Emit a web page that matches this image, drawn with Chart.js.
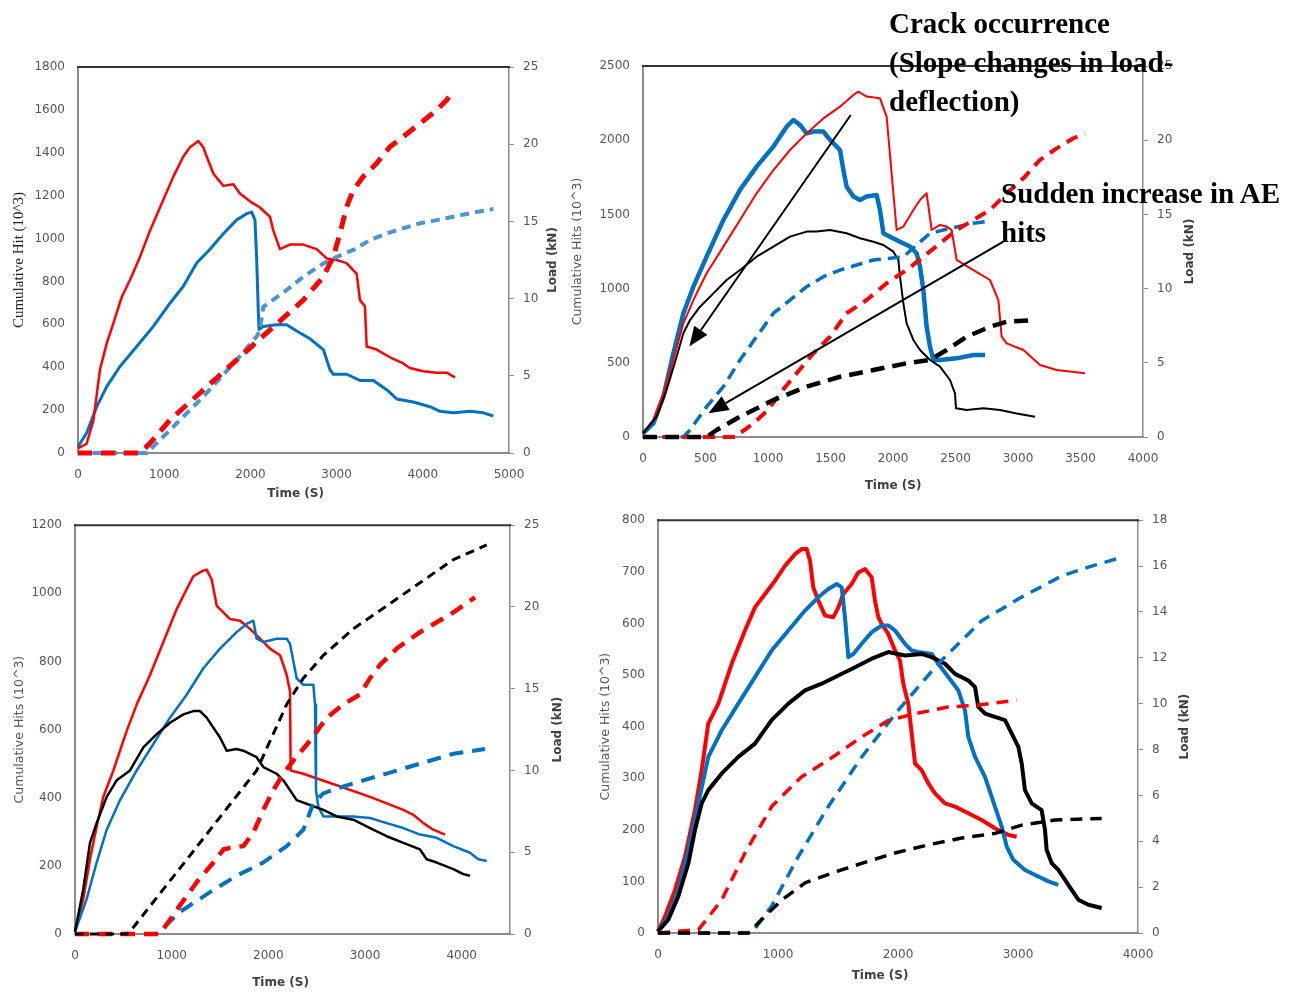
<!DOCTYPE html>
<html>
<head>
<meta charset="utf-8">
<title>AE cumulative hits and load vs time</title>
<script src="https://cdn.jsdelivr.net/npm/chart.js@4.4.1/dist/chart.umd.min.js"></script>
<style>
  html, body { margin: 0; padding: 0; background: #fff; }
  body { width: 1302px; height: 995px; position: relative; overflow: hidden; }
  canvas { position: absolute; }
  .note {
    position: absolute; z-index: 5; white-space: nowrap; color: #000;
    font-family: "Liberation Serif", "Times New Roman", serif;
    font-weight: bold; font-size: 29px; line-height: 39px;
  }
</style>
</head>
<body>
<canvas id="c1" width="570" height="510" style="left:0px;top:0px;width:570px;height:510px"></canvas>
<canvas id="c2" width="732" height="500" style="left:570px;top:0px;width:732px;height:500px"></canvas>
<canvas id="c3" width="570" height="490" style="left:0px;top:505px;width:570px;height:490px"></canvas>
<canvas id="c4" width="732" height="495" style="left:570px;top:500px;width:732px;height:495px"></canvas>
<div class="note" style="left:889px;top:4px">Crack occurrence<br>(Slope changes in load-<br>deflection)</div>
<div class="note" style="left:1001px;top:174px">Sudden increase in AE<br>hits</div>

<script>
// ---- data (time in s, hits in 10^3, load in kN) ----

// panel 1 (top left)
const p1TimeTicks = [0, 1000, 2000, 3000, 4000, 5000];
const p1HitsTicks = [0, 200, 400, 600, 800, 1000, 1200, 1400, 1600, 1800];
const p1LoadTicks = [0, 5, 10, 15, 20, 25];
const p1LoadRedTime = [0,100,178,255,333,410,507,603,719,835,990,1106,1222,1299,1396,1454,1493,1570,1686,1802,1879,1995,2111,2227,2266,2343,2459,2614,2769,2885,3001,3117,3233,3271,3329,3349,3465,3619,3774,3851,4006,4161,4277,4373];
const p1LoadRed = [0.3,0.6,2.1,5.4,7.1,8.4,10.1,11.2,12.7,14.4,16.4,17.9,19.2,19.8,20.2,19.8,19.2,18.1,17.3,17.4,16.8,16.3,15.9,15.3,14.4,13.2,13.5,13.5,13.2,12.6,12.5,12.3,11.6,9.9,9.5,6.9,6.7,6.2,5.8,5.5,5.3,5.2,5.2,4.9];
const p1LoadBlueTime = [0,100,217,333,487,681,874,1067,1222,1377,1531,1686,1841,1957,2015,2053,2073,2092,2100,2150,2305,2421,2537,2691,2846,2923,2962,3117,3271,3426,3581,3697,3890,4083,4199,4354,4547,4702,4818];
const p1LoadBlue = [0.4,1.3,3.0,4.3,5.6,6.9,8.2,9.7,10.8,12.3,13.2,14.2,15.1,15.5,15.6,15.1,12.5,9.1,8.0,8.2,8.3,8.3,7.9,7.4,6.7,5.4,5.1,5.1,4.7,4.7,4.1,3.5,3.3,3.0,2.7,2.6,2.7,2.6,2.4];
const p1HitsRedTime = [0,719,835,1067,1454,1841,2227,2614,2846,2962,3039,3117,3194,3310,3465,3619,3774,3967,4161,4277,4354];
const p1HitsRed = [0,0,45,154,294,434,574,713,822,915,1024,1149,1226,1289,1351,1428,1475,1537,1599,1646,1693];
const p1HitsBlueTime = [0,797,1067,1454,1841,2073,2111,2150,2421,2614,2846,3001,3194,3388,3581,3774,3967,4161,4354,4547,4818];
const p1HitsBlue = [0,0,107,263,434,543,574,682,760,822,884,915,947,993,1024,1048,1071,1086,1102,1118,1138];

// panel 2 (top right)
const p2TimeTicks = [0, 500, 1000, 1500, 2000, 2500, 3000, 3500, 4000];
const p2HitsTicks = [0, 500, 1000, 1500, 2000, 2500];
const p2LoadTicks = [0, 5, 10, 15, 20, 25];
const p2LoadRedTime = [0,83,163,243,323,403,509,643,776,909,1043,1176,1309,1443,1576,1683,1723,1789,1896,1949,2029,2083,2163,2216,2269,2309,2376,2429,2469,2509,2643,2776,2843,2869,2909,3043,3176,3309,3536];
const p2LoadRed = [0.25,1.15,2.94,5.19,7.66,9.23,11.03,12.83,14.62,16.42,17.99,19.34,20.46,21.47,22.26,23.05,23.27,22.94,22.82,21.59,13.95,14.18,15.3,15.97,16.42,13.95,14.29,14.18,13.95,11.93,11.25,10.58,9.23,6.76,6.31,5.86,4.85,4.52,4.29];
const p2LoadBlueTime = [0,83,163,243,323,403,509,643,776,909,1043,1149,1203,1256,1309,1363,1443,1496,1576,1603,1629,1683,1736,1789,1869,1896,1923,1976,2056,2136,2189,2216,2243,2269,2296,2323,2376,2509,2643,2736];
const p2LoadBlue = [0.25,0.92,2.72,5.64,8.33,10.13,12.15,14.62,16.65,18.22,19.57,20.91,21.36,21.03,20.46,20.58,20.58,20.02,19.34,17.99,16.87,16.2,15.97,16.2,16.31,15.3,13.73,13.5,13.16,12.83,12.38,11.48,9.91,7.43,6.09,5.19,5.19,5.3,5.53,5.53];
const p2LoadBlackTime = [0,109,189,269,323,376,456,563,669,776,909,1043,1176,1309,1389,1496,1629,1736,1843,1923,2003,2043,2056,2083,2109,2163,2216,2296,2376,2456,2496,2504,2589,2723,2856,2989,3136];
const p2LoadBlack = [0.25,1.37,3.17,5.41,6.99,7.88,8.78,9.68,10.58,11.25,12.15,12.83,13.5,13.84,13.84,13.95,13.73,13.39,13.16,12.94,12.49,11.93,10.8,9.01,7.66,6.54,5.86,5.19,4.74,3.84,2.94,1.93,1.82,1.93,1.82,1.59,1.37];
const p2HitsBlueTime = [0,323,376,509,643,776,909,1043,1176,1309,1443,1576,1709,1843,1976,2083,2189,2296,2456,2643,2736];
const p2HitsBlue = [0,0,47,204,339,519,676,834,923,1013,1080,1125,1159,1193,1204,1215,1294,1373,1406,1440,1451];
const p2HitsRedTime = [0,749,776,883,1000,1096,1229,1363,1496,1629,1789,1949,2109,2243,2376,2509,2643,2776,2909,3043,3176,3309,3443,3536];
const p2HitsRed = [0,0,25,92,182,294,429,564,676,834,923,1036,1125,1215,1305,1395,1462,1530,1642,1743,1867,1945,2013,2046];
const p2HitsBlackTime = [0,509,589,776,1043,1309,1576,1843,2109,2296,2429,2589,2776,2909,3136];
const p2HitsBlack = [0,0,47,137,249,339,406,451,497,519,586,676,743,777,788];
// arrow annotations, [from time, from hits, to time, to hits]
const crackArrow = [1662, 2170, 371, 609];
const aeHitsArrow = [2883, 1316, 523, 160];

// panel 3 (bottom left)
const p3TimeTicks = [0, 1000, 2000, 3000, 4000];
const p3HitsTicks = [0, 200, 400, 600, 800, 1000, 1200];
const p3LoadTicks = [0, 5, 10, 15, 20, 25];
const p3LoadRedTime = [0,86,155,224,293,397,466,535,638,776,914,1052,1155,1224,1310,1362,1414,1466,1535,1603,1707,1810,1914,2017,2121,2190,2224,2231,2362,2707,3052,3397,3500,3604,3707,3828];
const p3LoadRed = [0.14,2.15,4.57,6.58,8.39,10.0,11.21,12.42,14.03,15.84,17.86,19.87,21.08,21.88,22.18,22.28,21.68,20.07,19.67,19.26,19.16,18.66,18.06,17.45,17.05,15.84,14.84,10.0,9.8,9.1,8.39,7.59,7.29,6.78,6.38,6.08];
const p3LoadBlueTime = [0,121,224,328,466,638,810,983,1155,1328,1500,1672,1776,1845,1879,1948,2086,2190,2224,2293,2362,2466,2483,2493,2517,2569,2707,2879,3052,3224,3397,3569,3742,3914,4086,4172,4259];
const p3LoadBlue = [0.14,2.15,4.37,6.38,8.19,10.0,11.61,13.23,14.63,16.25,17.45,18.46,18.96,19.16,18.06,17.86,18.06,18.06,17.75,15.64,15.24,15.24,14.03,8.8,7.79,7.19,7.19,7.19,7.09,6.78,6.48,6.08,5.88,5.37,4.97,4.57,4.47];
const p3LoadBlackTime = [0,86,155,224,328,431,569,707,845,983,1121,1224,1293,1362,1431,1500,1569,1672,1741,1879,1948,2086,2155,2224,2293,2431,2569,2707,2879,3052,3224,3397,3569,3638,3742,3914,4017,4086];
const p3LoadBlack = [0.14,2.76,5.57,6.78,8.39,9.4,10.0,11.41,12.22,12.92,13.43,13.63,13.63,13.23,12.62,12.02,11.21,11.31,11.21,10.81,10.21,9.8,9.4,8.8,8.19,7.89,7.59,7.19,6.99,6.48,5.98,5.57,5.17,4.57,4.37,3.97,3.66,3.56];
const p3HitsBlackTime = [0,535,569,810,1155,1500,1879,2190,2362,2569,2879,3224,3569,3914,4259];
const p3HitsBlack = [0,0,7,94,218,343,480,674,751,818,896,963,1031,1099,1142];
const p3HitsRedTime = [0,879,1086,1259,1431,1535,1603,1741,1845,1948,2052,2155,2259,2431,2604,2776,2948,3052,3155,3328,3569,3742,3914,4138];
const p3HitsRed = [0,0,84,152,210,248,253,258,297,364,422,471,509,567,635,674,703,751,790,838,886,915,944,988];
const p3HitsBlueTime = [0,845,1086,1397,1672,1948,2190,2362,2466,2569,2707,2983,3224,3569,3914,4241];
const p3HitsBlue = [0,0,65,123,171,210,258,306,384,413,427,451,471,500,529,543];

// panel 4 (bottom right)
const p4TimeTicks = [0, 1000, 2000, 3000, 4000];
const p4HitsTicks = [0, 100, 200, 300, 400, 500, 600, 700, 800];
const p4LoadTicks = [0, 2, 4, 6, 8, 10, 12, 14, 16, 18];
const p4LoadRedTime = [0,58,142,225,308,364,419,503,614,725,808,892,975,1058,1142,1197,1239,1267,1294,1336,1392,1461,1503,1544,1614,1669,1725,1781,1808,1836,1864,1919,1975,2017,2044,2086,2114,2142,2197,2253,2308,2392,2475,2586,2697,2808,2919,2989];
const p4LoadRed = [0.07,0.72,1.88,3.33,5.36,7.1,9.13,10.0,11.74,13.19,14.2,14.78,15.36,16.01,16.52,16.74,16.74,16.23,15.07,14.49,13.84,13.77,14.2,14.78,15.22,15.72,15.87,15.51,14.49,13.77,13.48,13.04,12.32,11.88,10.87,10.0,8.7,7.39,7.1,6.52,6.09,5.65,5.51,5.22,4.93,4.57,4.28,4.2];
const p4LoadBlueTime = [0,86,169,253,336,419,531,669,808,947,1086,1225,1336,1419,1489,1531,1558,1586,1628,1697,1781,1864,1919,1975,2058,2114,2169,2281,2336,2419,2503,2558,2586,2642,2725,2808,2864,2906,2961,3058,3169,3253,3336];
const p4LoadBlue = [0.07,0.72,1.88,3.62,5.65,7.68,8.84,10.0,11.16,12.32,13.19,14.06,14.64,15.0,15.22,15.07,13.77,12.03,12.17,12.61,13.12,13.41,13.41,13.19,12.61,12.32,12.25,12.17,11.74,11.16,10.58,9.71,8.55,7.68,6.81,5.51,4.64,3.77,3.19,2.75,2.46,2.25,2.1];
const p4LoadBlackTime = [0,86,169,253,308,364,419,531,669,808,947,1086,1225,1364,1503,1642,1781,1919,2058,2197,2281,2392,2475,2586,2642,2669,2725,2808,2892,2947,3003,3031,3058,3114,3197,3225,3239,3281,3336,3392,3447,3503,3586,3697];
const p4LoadBlack = [0.07,0.58,1.59,3.04,4.49,5.65,6.23,6.96,7.68,8.26,9.28,10.0,10.58,10.87,11.23,11.59,11.96,12.25,12.1,12.17,12.03,11.74,11.3,11.01,10.72,9.86,9.57,9.42,9.28,8.7,8.12,7.39,6.23,5.65,5.36,4.49,3.62,3.04,2.75,2.32,1.88,1.45,1.23,1.09];
const p4HitsRedTime = [0,150,250,336,531,725,947,1197,1419,1697,1919,2142,2419,2642,2989];
const p4HitsRed = [0,3,5,6,64,155,245,303,335,380,412,425,438,441,451];
const p4HitsBlueTime = [0,781,947,1169,1419,1697,2003,2336,2697,3031,3364,3586,3864];
const p4HitsBlue = [0,0,52,148,245,341,432,522,605,651,692,709,728];
const p4HitsBlackTime = [0,753,864,1031,1225,1447,1697,1975,2253,2531,2808,3031,3308,3697];
const p4HitsBlack = [0,0,26,64,97,116,135,155,171,184,193,209,219,222];

// axis titles
const xTitle = 'Time (S)';
const loadTitle = 'Load (kN)';
const hitsTitle = 'Cumulative Hits (10^3)';
const hitsTitleP1 = 'Cumulative Hit (10^3)';

// ---- styling / helpers ----
const RED = '#ff0000';
const BLUE = '#0070c0';
const BLACK = '#000000';
const AXIS_GRAY = '#8c8c8c';
const LABEL_GRAY = '#555555';
const SANS = "'DejaVu Sans', sans-serif";

function series(times, values, color, width, dash, axis) {
  return {
    data: times.map((t, i) => ({ x: t, y: values[i] })),
    borderColor: color,
    borderWidth: width,
    borderDash: dash || [],
    borderJoinStyle: 'round',
    yAxisID: axis,
    pointRadius: 0,
    tension: 0,
    fill: false,
    clip: false
  };
}

function fixedTicks(list) {
  return scale => { scale.ticks = list.map(v => ({ value: v })); };
}

// top frame line and axis titles
const frameAndTitles = {
  id: 'frameAndTitles',
  afterDraw(chart, args, o) {
    const { ctx, chartArea: a } = chart;
    ctx.save();
    ctx.strokeStyle = '#333';
    ctx.lineWidth = 2;
    ctx.beginPath();
    ctx.moveTo(a.left - 1, a.top);
    ctx.lineTo(a.right + 1, a.top);
    ctx.stroke();

    ctx.textAlign = 'center';
    ctx.textBaseline = 'middle';
    ctx.fillStyle = '#404040';
    ctx.font = 'bold 12px ' + SANS;
    ctx.fillText(o.x, (a.left + a.right) / 2 + o.xShift, a.bottom + o.xGap);

    ctx.save();
    ctx.translate(a.left - o.leftGap, (a.top + a.bottom) / 2);
    ctx.rotate(-Math.PI / 2);
    ctx.fillStyle = o.leftColor;
    ctx.font = o.leftFont;
    ctx.fillText(o.left, 0, 0);
    ctx.restore();

    ctx.save();
    ctx.translate(a.right + o.rightGap, (a.top + a.bottom) / 2);
    ctx.rotate(-Math.PI / 2);
    ctx.fillStyle = '#404040';
    ctx.font = 'bold 12px ' + SANS;
    ctx.fillText(o.right, 0, 0);
    ctx.restore();
    ctx.restore();
  }
};

// arrows on panel 2
const arrowPlugin = {
  id: 'arrows',
  afterDraw(chart, args, o) {
    if (!o.list) return;
    const { ctx, scales } = chart;
    ctx.save();
    ctx.strokeStyle = '#000';
    ctx.fillStyle = '#000';
    ctx.lineWidth = 2;
    o.list.forEach(arr => {
      const x0 = scales.x.getPixelForValue(arr[0]);
      const y0 = scales.y.getPixelForValue(arr[1]);
      const x1 = scales.x.getPixelForValue(arr[2]);
      const y1 = scales.y.getPixelForValue(arr[3]);
      const ang = Math.atan2(y1 - y0, x1 - x0);
      const headLen = 20, headHalf = 8;
      const bx = x1 - headLen * Math.cos(ang), by = y1 - headLen * Math.sin(ang);
      ctx.beginPath();
      ctx.moveTo(x0, y0);
      ctx.lineTo(bx, by);
      ctx.stroke();
      ctx.beginPath();
      ctx.moveTo(x1, y1);
      ctx.lineTo(bx + headHalf * Math.sin(ang), by - headHalf * Math.cos(ang));
      ctx.lineTo(bx - headHalf * Math.sin(ang), by + headHalf * Math.cos(ang));
      ctx.closePath();
      ctx.fill();
    });
    ctx.restore();
  }
};

function makePanel(id, p) {
  const tickFont = { family: SANS, size: 12 };
  return new Chart(document.getElementById(id), {
    type: 'line',
    data: { datasets: p.datasets },
    options: {
      responsive: false,
      animation: false,
      devicePixelRatio: 1,
      layout: { padding: { top: p.padTop, left: 0, right: 0, bottom: 0 } },
      plugins: {
        legend: { display: false },
        tooltip: { enabled: false },
        frameAndTitles: p.titles,
        arrows: { list: p.arrows }
      },
      scales: {
        x: {
          type: 'linear', min: 0, max: p.xMax,
          border: { color: AXIS_GRAY, width: 2 },
          grid: { display: false, drawTicks: false },
          ticks: { font: tickFont, color: LABEL_GRAY, padding: 15, maxRotation: 0, autoSkip: false, callback: v => String(v) },
          afterBuildTicks: fixedTicks(p.xTicks),
          afterFit: s => { s.height = p.xH; }
        },
        y: {
          position: 'left', min: 0, max: p.yTicks[p.yTicks.length - 1],
          border: { color: AXIS_GRAY, width: 2 },
          grid: { display: false, drawTicks: false },
          ticks: { font: tickFont, color: LABEL_GRAY, padding: 13, autoSkip: false, callback: v => String(v) },
          afterBuildTicks: fixedTicks(p.yTicks),
          afterFit: s => { s.width = p.yW; }
        },
        y1: {
          position: 'right', min: 0, max: p.y1Ticks[p.y1Ticks.length - 1],
          border: { color: AXIS_GRAY, width: 1.5 },
          grid: { display: true, drawOnChartArea: false, drawTicks: true, tickLength: 5, color: AXIS_GRAY },
          ticks: { font: tickFont, color: LABEL_GRAY, padding: 9, autoSkip: false, callback: v => String(v) },
          afterBuildTicks: fixedTicks(p.y1Ticks),
          afterFit: s => { s.width = p.y1W; }
        }
      }
    },
    plugins: [frameAndTitles, arrowPlugin]
  });
}

// ---- panel 1 ----
makePanel('c1', {
  padTop: 67, yW: 78, y1W: 61, xH: 57,
  xMax: 5000, xTicks: p1TimeTicks, yTicks: p1HitsTicks, y1Ticks: p1LoadTicks,
  titles: { x: xTitle, xShift: 2, xGap: 41, left: hitsTitleP1, leftGap: 59, leftColor: '#222',
            leftFont: "15px 'Liberation Serif', serif", right: loadTitle, rightGap: 44 },
  datasets: [
    series(p1HitsRedTime, p1HitsRed, RED, 5, [14, 9], 'y'),
    series(p1HitsBlueTime, p1HitsBlue, '#4f93cf', 4, [9, 6], 'y'),
    series(p1LoadRedTime, p1LoadRed, RED, 2.5, null, 'y1'),
    series(p1LoadBlueTime, p1LoadBlue, BLUE, 3, null, 'y1')
  ]
});

// ---- panel 2 ----
makePanel('c2', {
  padTop: 66, yW: 73, y1W: 159, xH: 63,
  xMax: 4000, xTicks: p2TimeTicks, yTicks: p2HitsTicks, y1Ticks: p2LoadTicks,
  titles: { x: xTitle, xShift: 0, xGap: 49, left: hitsTitle, leftGap: 65, leftColor: '#555',
            leftFont: "12.5px " + SANS, right: loadTitle, rightGap: 47 },
  arrows: [crackArrow, aeHitsArrow],
  datasets: [
    series(p2HitsBlackTime, p2HitsBlack, BLACK, 4.5, [14, 8], 'y'),
    series(p2HitsRedTime, p2HitsRed, RED, 4, [12, 8], 'y'),
    series(p2HitsBlueTime, p2HitsBlue, BLUE, 3.5, [12, 7], 'y'),
    series(p2LoadBlackTime, p2LoadBlack, BLACK, 2, null, 'y1'),
    series(p2LoadRedTime, p2LoadRed, RED, 2, null, 'y1'),
    series(p2LoadBlueTime, p2LoadBlue, BLUE, 4.5, null, 'y1')
  ]
});

// ---- panel 3 ----
makePanel('c3', {
  padTop: 15, yW: 75, y1W: 60, xH: 61,
  xMax: 4500, xTicks: p3TimeTicks, yTicks: p3HitsTicks, y1Ticks: p3LoadTicks,
  titles: { x: xTitle, xShift: -12, xGap: 49, left: hitsTitle, leftGap: 55, leftColor: '#555',
            leftFont: "12.5px " + SANS, right: loadTitle, rightGap: 48 },
  datasets: [
    series(p3HitsBlackTime, p3HitsBlack, BLACK, 3, [9, 6], 'y'),
    series(p3HitsRedTime, p3HitsRed, RED, 4.5, [14, 9], 'y'),
    series(p3HitsBlueTime, p3HitsBlue, BLUE, 4, [14, 9], 'y'),
    series(p3LoadBlackTime, p3LoadBlack, BLACK, 2.5, null, 'y1'),
    series(p3LoadBlueTime, p3LoadBlue, BLUE, 2.5, null, 'y1'),
    series(p3LoadRedTime, p3LoadRed, RED, 2.5, null, 'y1')
  ]
});

// ---- panel 4 ----
makePanel('c4', {
  padTop: 18, yW: 88, y1W: 164, xH: 62,
  xMax: 4000, xTicks: p4TimeTicks, yTicks: p4HitsTicks, y1Ticks: p4LoadTicks,
  titles: { x: xTitle, xShift: -18, xGap: 43, left: hitsTitle, leftGap: 52, leftColor: '#555',
            leftFont: "12.5px " + SANS, right: loadTitle, rightGap: 47 },
  datasets: [
    series(p4HitsBlackTime, p4HitsBlack, BLACK, 3.5, [12, 8], 'y'),
    series(p4HitsRedTime, p4HitsRed, RED, 3.5, [12, 8], 'y'),
    series(p4HitsBlueTime, p4HitsBlue, BLUE, 3.5, [12, 8], 'y'),
    series(p4LoadBlackTime, p4LoadBlack, BLACK, 4, null, 'y1'),
    series(p4LoadBlueTime, p4LoadBlue, BLUE, 4, null, 'y1'),
    series(p4LoadRedTime, p4LoadRed, RED, 4, null, 'y1')
  ]
});
</script>
</body>
</html>
